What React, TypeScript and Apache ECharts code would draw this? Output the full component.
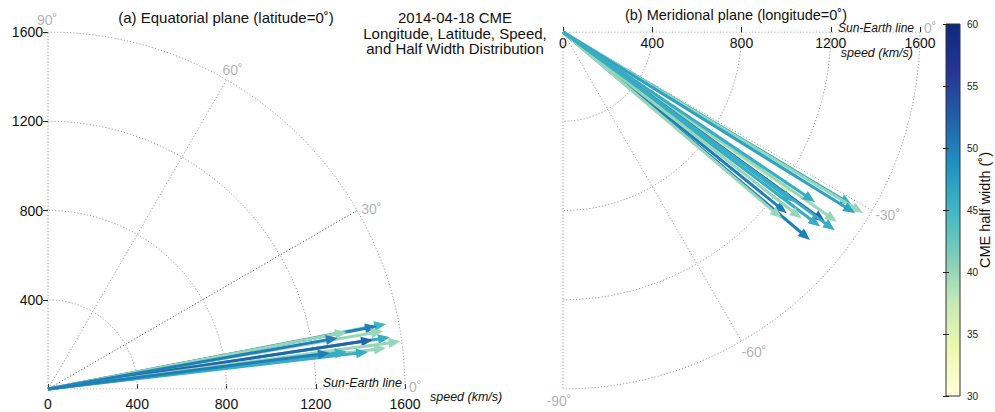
import React, { useEffect, useRef } from 'react';
import * as echarts from 'echarts';

const FONT = '"Liberation Sans", Arial, Helvetica, sans-serif';

// ---- Data ----
// (a) Equatorial plane: speed (km/s), longitude (deg), half width (deg)
const eqSpeed = [1258, 1543, 1501, 1524, 1550, 1473, 1595, 1526, 1444, 1364, 1319, 1350, 1274];
const eqLongitude = [7.4, 10.9, 10.8, 9.8, 8.6, 8.6, 7.7, 6.9, 6.6, 10.8, 10.0, 7.1, 7.3];
const eqHalfWidth = [36, 45, 50, 40, 46, 52, 40, 40, 46, 40, 50, 46, 50];

// (b) Meridional plane: speed (km/s), latitude (deg), half width (deg)
const merSpeed = [1255, 1509, 1570, 1540, 1493, 1450, 1508, 1445, 1447, 1290, 1288, 1357, 1281, 1362];
const merLatitude = [-35, -30.9, -31.1, -31.8, -34.7, -35.9, -36.1, -37.1, -40.1, -39.0, -40.4, -38.0, -36.4, -34.0];
const merHalfWidth = [36, 46, 40, 47, 40, 52, 46, 46, 50, 50, 40, 40, 46, 46];

const speedTicks = [0, 400, 800, 1200, 1600];
const eqAngleTicks = [0, 30, 60, 90];
const merAngleTicks = [0, -30, -60, -90];
const halfWidthRange = [30, 60];
const YLGNBU = ['#ffffd9', '#edf8b1', '#c7e9b4', '#7fcdbb', '#41b6c4', '#1d91c0', '#225ea8', '#253494', '#0c2a80'];

const RMAX = 1600;
const GRID_COLOR = '#9a9a9a';

function polarXY(r: number, deg: number) {
  const a = (deg * Math.PI) / 180;
  return [r * Math.cos(a), r * Math.sin(a)];
}

function gridLineSeries(axisIdx: number, angles: number[], darkAngle: number | null) {
  const series: any[] = [];
  const a0 = angles[0];
  const a1 = angles[angles.length - 1];
  speedTicks.filter((r) => r > 0).forEach((r) => {
    const pts: number[][] = [];
    for (let i = 0; i <= 120; i++) pts.push(polarXY(r, a0 + ((a1 - a0) * i) / 120));
    series.push({
      type: 'line', xAxisIndex: axisIdx, yAxisIndex: axisIdx, data: pts, showSymbol: false, symbol: 'none',
      silent: true, lineStyle: { color: GRID_COLOR, width: 1, type: [1.2, 2] }, z: 1,
    });
  });
  angles.forEach((ang) => {
    series.push({
      type: 'line', xAxisIndex: axisIdx, yAxisIndex: axisIdx, data: [[0, 0], polarXY(RMAX, ang)], showSymbol: false,
      symbol: 'none', silent: true,
      lineStyle: { color: ang === darkAngle ? '#5a5a5a' : GRID_COLOR, width: 1, type: [1.2, 2] }, z: 1,
    });
  });
  return series;
}

function degreeLabelSeries(axisIdx: number, angles: number[], placements: any[]) {
  return {
    type: 'scatter', xAxisIndex: axisIdx, yAxisIndex: axisIdx, symbolSize: 0, silent: true, z: 3,
    data: angles.map((ang, i) => ({
      value: polarXY(RMAX, ang),
      label: {
        show: true, formatter: ang + '˚', color: '#a0a0a0', fontSize: 14, fontFamily: FONT,
        position: placements[i].pos, align: placements[i].align, verticalAlign: 'middle',
      },
    })),
  };
}

function arrowRender(params: any, api: any) {
  const s = api.value(0);
  const ang = api.value(1);
  const [x, y] = polarXY(s, ang);
  const p0 = api.coord([0, 0]);
  const p1 = api.coord([x, y]);
  const dx = p1[0] - p0[0];
  const dy = p1[1] - p0[1];
  const L = Math.hypot(dx, dy) || 1;
  const ux = dx / L;
  const uy = dy / L;
  const hl = 12;
  const hw = 5;
  const bx = p1[0] - ux * hl;
  const by = p1[1] - uy * hl;
  const color = api.visual('color');
  return {
    type: 'group',
    children: [
      { type: 'line', shape: { x1: p0[0], y1: p0[1], x2: bx + ux * 2, y2: by + uy * 2 }, style: { stroke: color, lineWidth: 3 } },
      {
        type: 'polygon',
        shape: { points: [[p1[0], p1[1]], [bx - uy * hw, by + ux * hw], [bx + uy * hw, by - ux * hw]] },
        style: { fill: color },
      },
    ],
  };
}

export default function App() {
  const ref = useRef<HTMLDivElement>(null);
  useEffect(() => {
    document.body.style.margin = '0';
    if (!ref.current) return;
    const chart = echarts.init(ref.current, undefined, { renderer: 'svg' });

    const eqData = eqSpeed.map((s, i) => [s, eqLongitude[i], eqHalfWidth[i]]);
    const merData = merSpeed.map((s, i) => [s, merLatitude[i], merHalfWidth[i]]);

    const axisLabelStyle = { color: '#111', fontSize: 14, fontFamily: FONT, formatter: (v: number) => String(v) };

    const series: any[] = [
      ...gridLineSeries(0, eqAngleTicks, 30),
      ...gridLineSeries(1, merAngleTicks, null),
      degreeLabelSeries(0, eqAngleTicks, [
        { pos: [4, -2], align: 'left' },
        { pos: [4, -2], align: 'left' },
        { pos: [6, -10], align: 'center' },
        { pos: [-1, -12], align: 'center' },
      ]),
      degreeLabelSeries(1, merAngleTicks, [
        { pos: [4, -4], align: 'left' },
        { pos: [3, 4], align: 'left' },
        { pos: [0, 11], align: 'left' },
        { pos: [-4, 12], align: 'center' },
      ]),
      {
        type: 'custom', name: 'eq', xAxisIndex: 0, yAxisIndex: 0, data: eqData, renderItem: arrowRender, clip: false, z: 5,
        encode: { x: 0, y: 1 },
      },
      {
        type: 'custom', name: 'mer', xAxisIndex: 1, yAxisIndex: 1, data: merData, renderItem: arrowRender, clip: false, z: 5,
        encode: { x: 0, y: 1 },
      },
    ];
    const eqIdx = series.length - 2;
    const merIdx = series.length - 1;

    const cbLeft = 946, cbTop = 24, cbW = 14, cbH = 372;
    const titleStyle = { fontSize: 15, fontFamily: FONT, fill: '#111', align: 'center', verticalAlign: 'middle' };
    const italStyle = { fontSize: 12.5, fontStyle: 'italic', fontFamily: FONT, fill: '#111', verticalAlign: 'middle' };

    chart.setOption({
      animation: false,
      textStyle: { fontFamily: FONT },
      grid: [
        { left: 48, top: 32, width: 357, height: 357 },
        { left: 563, top: 32, width: 357, height: 357 },
        { left: cbLeft, top: cbTop, width: cbW, height: cbH },
      ],
      xAxis: [
        {
          gridIndex: 0, type: 'value', min: 0, max: RMAX, interval: 400, position: 'bottom',
          axisLine: { show: false }, splitLine: { show: false },
          axisTick: { show: true, inside: true, length: 5, lineStyle: { color: '#222' } },
          axisLabel: { ...axisLabelStyle, margin: 8 },
        },
        {
          gridIndex: 1, type: 'value', min: 0, max: RMAX, interval: 400, position: 'top',
          axisLine: { show: false }, splitLine: { show: false },
          axisTick: { show: true, inside: false, length: 5, lineStyle: { color: '#222' } },
          axisLabel: { ...axisLabelStyle, inside: true, margin: 4 },
        },
        { gridIndex: 2, type: 'value', min: 0, max: 1, show: false },
      ],
      yAxis: [
        {
          gridIndex: 0, type: 'value', min: 0, max: RMAX, interval: 400, position: 'left',
          axisLine: { show: false }, splitLine: { show: false },
          axisTick: { show: true, inside: false, length: 5, lineStyle: { color: '#222' } },
          axisLabel: { ...axisLabelStyle, margin: 5, showMinLabel: false },
        },
        { gridIndex: 1, type: 'value', min: -RMAX, max: 0, show: false },
        {
          gridIndex: 2, type: 'value', min: halfWidthRange[0], max: halfWidthRange[1], interval: 5, position: 'right', z: 10,
          axisLine: { show: false }, splitLine: { show: false },
          axisTick: { show: true, inside: true, length: 3, lineStyle: { color: '#222' } },
          axisLabel: { color: '#222', fontSize: 10, fontFamily: FONT, margin: 7 },
        },
        {
          gridIndex: 2, type: 'value', min: halfWidthRange[0], max: halfWidthRange[1], interval: 5, position: 'left', z: 10,
          axisLine: { show: false }, splitLine: { show: false },
          axisTick: { show: true, inside: true, length: 3, lineStyle: { color: '#222' } },
          axisLabel: { show: false },
        },
      ],
      visualMap: {
        type: 'continuous', show: false, min: halfWidthRange[0], max: halfWidthRange[1], dimension: 2,
        seriesIndex: [eqIdx, merIdx], inRange: { color: YLGNBU },
      },
      series,
      graphic: [
        {
          type: 'rect', z: 5, shape: { x: cbLeft, y: cbTop, width: cbW, height: cbH },
          style: {
            fill: new echarts.graphic.LinearGradient(0, 1, 0, 0,
              YLGNBU.map((c, i) => ({ offset: i / (YLGNBU.length - 1), color: c }))),
            stroke: '#333', lineWidth: 1,
          },
        },
        {
          type: 'text', x: 985, y: 210, rotation: Math.PI / 2, z: 6,
          style: { text: 'CME half width (˚)', fontSize: 14.5, fontFamily: FONT, fill: '#111', align: 'center', verticalAlign: 'middle' },
        },
        { type: 'text', x: 226, y: 17, style: { ...titleStyle, text: '(a) Equatorial plane (latitude=0˚)' } },
        { type: 'text', x: 736, y: 15, style: { ...titleStyle, fontSize: 14.5, text: '(b) Meridional plane (longitude=0˚)' } },
        {
          type: 'text', x: 455, y: 33,
          style: {
            ...titleStyle, lineHeight: 15.5,
            text: '2014-04-18 CME\nLongitude, Latitude, Speed,\nand Half Width Distribution',
          },
        },
        { type: 'text', x: 402, y: 383, style: { ...italStyle, text: 'Sun-Earth line', align: 'right' } },
        { type: 'text', x: 430, y: 397, style: { ...italStyle, text: 'speed (km/s)', align: 'left' } },
        { type: 'text', x: 914, y: 28, style: { ...italStyle, fontSize: 12, text: 'Sun-Earth line', align: 'right' } },
        { type: 'text', x: 913, y: 53, style: { ...italStyle, text: 'speed (km/s)', align: 'right' } },
      ],
    });
    return () => chart.dispose();
  }, []);
  return <div ref={ref} style={{ width: 995, height: 412 }} />;
}
